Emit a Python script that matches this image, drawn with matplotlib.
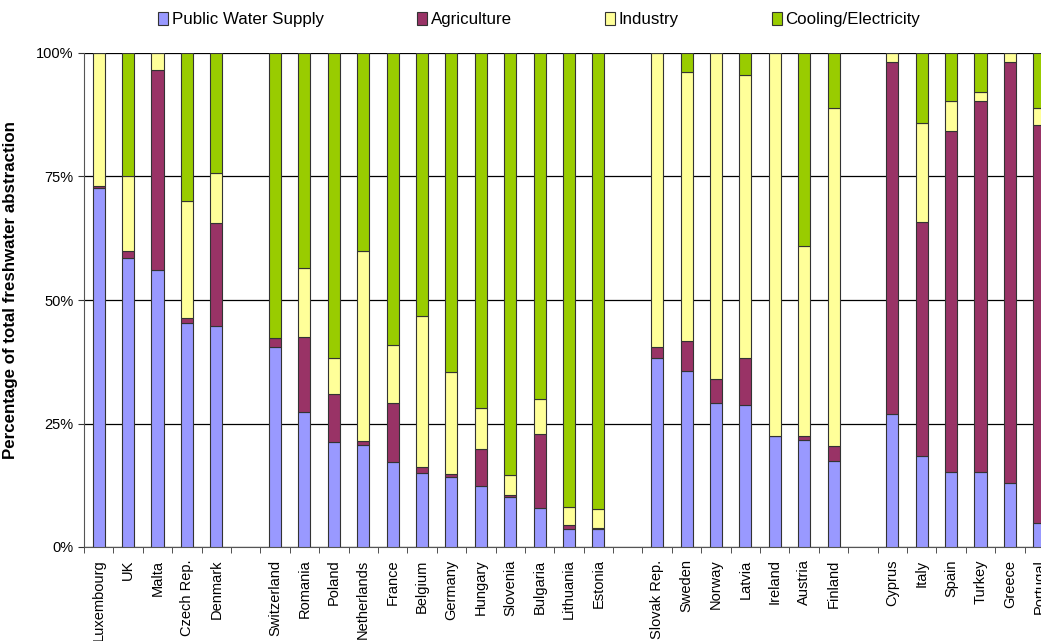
import matplotlib.pyplot as plt
from matplotlib.patches import Patch
import numpy as np

plt.rcParams['font.family'] = ['Liberation Sans', 'DejaVu Sans']

# categories ('' = empty gap slot)
countries = ['Luxembourg', 'UK', 'Malta', 'Czech Rep.', 'Denmark', '',
             'Switzerland', 'Romania', 'Poland', 'Netherlands', 'France', 'Belgium',
             'Germany', 'Hungary', 'Slovenia', 'Bulgaria', 'Lithuania', 'Estonia', '',
             'Slovak Rep.', 'Sweden', 'Norway', 'Latvia', 'Ireland', 'Austria', 'Finland', '',
             'Cyprus', 'Italy', 'Spain', 'Turkey', 'Greece', 'Portugal']

# shares in percent
public_water = [72.7, 58.6, 56.1, 45.4, 44.8, 0,
                40.4, 27.3, 21.2, 20.6, 17.3, 14.9, 14.1, 12.4, 10.2, 7.8, 3.6, 3.6, 0,
                38.2, 35.7, 29.1, 28.7, 22.5, 21.7, 17.5, 0,
                26.9, 18.5, 15.1, 15.1, 12.9, 4.8]
agriculture = [0.4, 1.3, 40.5, 0.9, 20.7, 0,
               2.0, 15.3, 9.7, 0.9, 11.9, 1.2, 0.6, 7.4, 0.3, 15.1, 0.9, 0.3, 0,
               2.2, 5.9, 4.9, 9.5, 0, 0.8, 2.9, 0,
               71.3, 47.2, 69.1, 75.2, 85.3, 80.6]
industry = [26.9, 15.3, 3.4, 23.7, 10.3, 0,
            0, 13.8, 7.3, 38.4, 11.7, 30.7, 20.7, 8.3, 4.1, 7.1, 3.5, 3.7, 0,
            59.6, 54.5, 66.0, 57.4, 77.5, 38.5, 68.4, 0,
            1.8, 20.2, 6.1, 1.9, 1.8, 3.4]
cooling = [0, 24.8, 0, 30.0, 24.2, 0,
           57.6, 43.6, 61.8, 40.1, 59.1, 53.2, 64.6, 71.9, 85.4, 70.0, 92.0, 92.4, 0,
           0, 3.9, 0, 4.4, 0, 39.0, 11.2, 0,
           0, 14.1, 9.7, 7.8, 0, 11.2]

series = [('Public Water Supply', public_water, '#9999FF'),
          ('Agriculture', agriculture, '#993366'),
          ('Industry', industry, '#FFFF99'),
          ('Cooling/Electricity', cooling, '#99CC00')]

fig = plt.figure(figsize=(10.41, 6.41), dpi=100)
ax = fig.add_axes([84 / 1041, 94 / 641, 970 / 1041, 494 / 641])

x = np.arange(len(countries))
has_bar = np.array([c != '' for c in countries])
bottom = np.zeros(len(countries))
for name, vals, col in series:
    vals = np.array(vals, dtype=float)
    ax.bar(x[has_bar], vals[has_bar], 0.41, bottom=bottom[has_bar], color=col,
           edgecolor='#333333', linewidth=0.8, zorder=3)
    bottom += vals

ax.set_xlim(-0.5, 32.5)
ax.set_ylim(0, 100)
ax.set_yticks([0, 25, 50, 75, 100])
ax.set_yticklabels(['0%', '25%', '50%', '75%', '100%'], fontsize=10.5)
ax.yaxis.grid(True, color='black', linewidth=0.9, zorder=0)
ax.set_xticks(x)
ax.set_xticklabels(countries, rotation=90, fontsize=10.5)
ax.set_xticks(np.arange(len(countries) + 1) - 0.5, minor=True)
ax.tick_params(axis='x', which='major', length=0, pad=9)
ax.tick_params(axis='x', which='minor', length=4, direction='out', color='#333333')
ax.tick_params(axis='y', length=4, color='#333333')
for s in ['top', 'right']:
    ax.spines[s].set_visible(False)
ax.spines['left'].set_color('#555555')
ax.spines['bottom'].set_color('#555555')
ax.set_ylabel('Percentage of total freshwater abstraction', fontsize=12.2,
              fontweight='bold')
ax.yaxis.set_label_coords(-0.068, 0.52)

handles = [Patch(facecolor=c, edgecolor='#333333', linewidth=0.8, label=n)
           for n, _, c in series]
fig.legend(handles=handles, loc='center', bbox_to_anchor=(0.518, 0.97), ncol=4,
           frameon=False, fontsize=12.2, handlelength=0.6, handleheight=0.8,
           handletextpad=0.2, columnspacing=5.5)

fig.savefig('out.png', dpi=100)
